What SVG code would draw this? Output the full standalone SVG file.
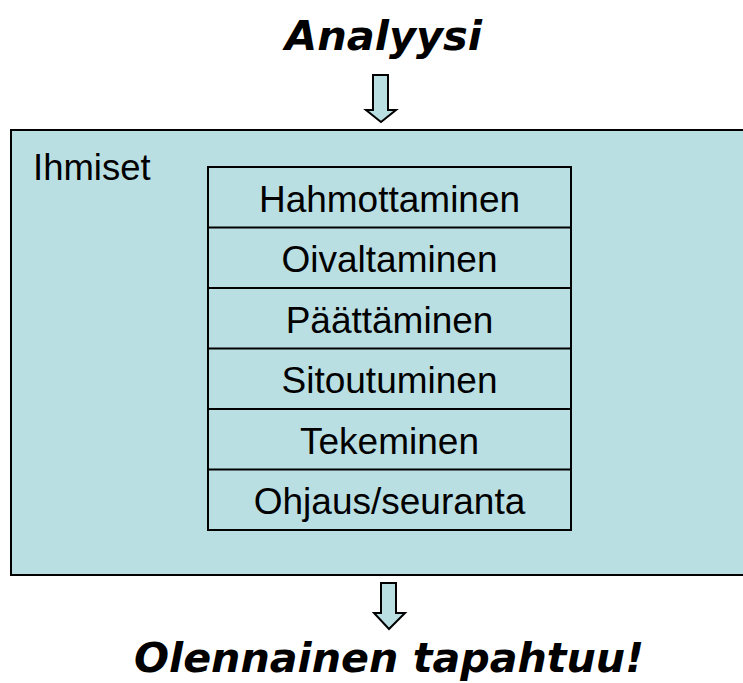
<svg xmlns="http://www.w3.org/2000/svg" width="743" height="683" viewBox="0 0 743 683">
<style>
.title{font-family:"DejaVu Sans",Verdana,sans-serif;font-weight:bold;font-style:italic;font-size:40px;fill:#000;text-anchor:middle}
.lbl{font-family:"Liberation Sans",Arial,sans-serif;font-size:37px;fill:#000;text-anchor:middle}
.box{fill:#badfe3;stroke:#000;stroke-width:2}
.row{fill:none;stroke:#000;stroke-width:2}
.arrow{fill:#badfe3;stroke:#000;stroke-width:2;stroke-linejoin:miter}
</style>
<rect width="743" height="683" fill="#fff"/>
<g id="title"><text class="title" x="383.5" y="50" textLength="197" lengthAdjust="spacingAndGlyphs">Analyysi</text></g>
<g id="connectors">
<path class="arrow" d="M373,75 H388 V110 H396 L381,122 L366,110 H373 Z"/>
<path class="arrow" d="M381,583 H396 V613 H405 L389,629 L374,613 H381 Z"/>
</g>
<g id="ihmiset">
<rect class="box" x="11" y="130" width="740" height="445"/>
<text class="lbl" x="33" y="180" style="text-anchor:start;font-size:36.5px">Ihmiset</text>
</g>
<g id="stack">
<rect class="row" x="208" y="167" width="363" height="363"/>
<line class="row" x1="208" y1="227.5" x2="571" y2="227.5"/>
<line class="row" x1="208" y1="288" x2="571" y2="288"/>
<line class="row" x1="208" y1="348.5" x2="571" y2="348.5"/>
<line class="row" x1="208" y1="409" x2="571" y2="409"/>
<line class="row" x1="208" y1="469.5" x2="571" y2="469.5"/>
</g>
<g id="hahmottaminen"><text class="lbl" x="389.5" y="211.5">Hahmottaminen</text></g>
<g id="oivaltaminen"><text class="lbl" x="389.5" y="272">Oivaltaminen</text></g>
<g id="paattaminen"><text class="lbl" x="389.5" y="332.5">Päättäminen</text></g>
<g id="sitoutuminen"><text class="lbl" x="389.5" y="393">Sitoutuminen</text></g>
<g id="tekeminen"><text class="lbl" x="389.5" y="453.5">Tekeminen</text></g>
<g id="ohjaus"><text class="lbl" x="389.5" y="514">Ohjaus/seuranta</text></g>
<g id="result"><text class="title" x="389" y="672" textLength="510" lengthAdjust="spacingAndGlyphs">Olennainen tapahtuu!</text></g>
</svg>
